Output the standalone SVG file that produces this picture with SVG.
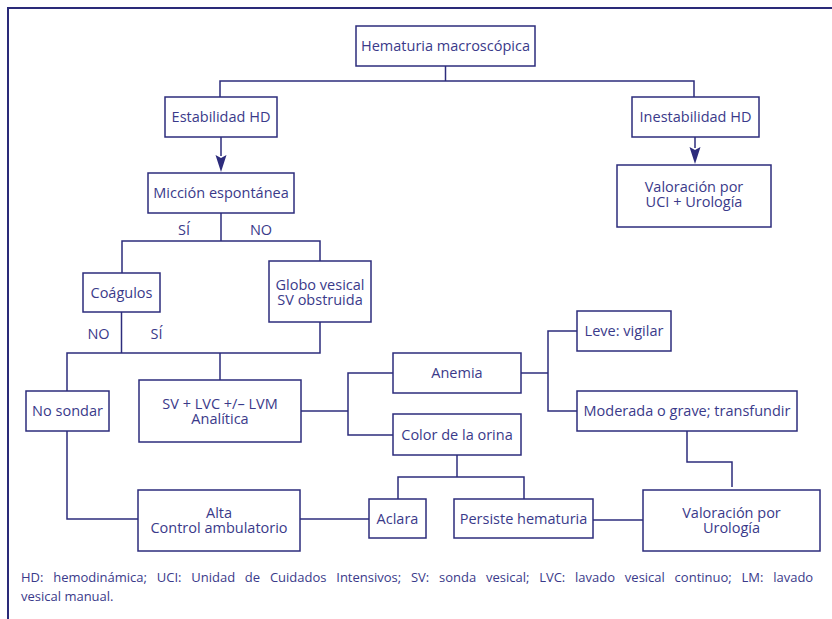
<svg xmlns="http://www.w3.org/2000/svg" width="832" height="619" viewBox="0 0 832 619">
<defs>
<style>
.box{fill:#fff;stroke:#2d2c7c;stroke-width:1.5}
.ln{fill:none;stroke:#2d2c7c;stroke-width:1.5}
.ah{fill:#2d2c7c}
text{font-family:"Open Sans","Noto Sans","Liberation Sans",sans-serif;font-size:14.5px;fill:#3a3a8a;text-anchor:middle}
.fn{font-size:13px;text-anchor:start}
</style>
</defs>
<rect width="832" height="619" fill="#fff"/>
<path d="M8 619 V8 H832" fill="none" stroke="#2a2a78" stroke-width="2"/>
<g id="connectors">
<path class="ln" d="M445.5 66 V81"/>
<path class="ln" d="M220 97 V81 H694 V97"/>
<path class="ln" d="M221 137 V156"/>
<path class="ah" d="M215.5 155 L221 158 L226.5 155 L221 172 Z"/>
<path class="ln" d="M695 137 V148"/>
<path class="ah" d="M689.5 147 L695 150 L700.5 147 L695 164 Z"/>
<path class="ln" d="M221 213 V241"/>
<path class="ln" d="M122 273 V241 H320 V261"/>
<path class="ln" d="M121.5 312 V353"/>
<path class="ln" d="M320 322 V353 H67 V391"/>
<path class="ln" d="M220 353 V380"/>
<path class="ln" d="M301 411 H348"/>
<path class="ln" d="M393 373 H348 V435 H393"/>
<path class="ln" d="M521 373 H548"/>
<path class="ln" d="M577 331 H548 V411 H577"/>
<path class="ln" d="M457 455 V477"/>
<path class="ln" d="M398 499 V477 H524 V499"/>
<path class="ln" d="M687 431 V462 H732 V487"/>
<path class="ln" d="M67 431 V519 H138"/>
<path class="ln" d="M300 519 H369"/>
<path class="ln" d="M593 520 H643"/>
</g>
<g id="n-hematuria"><rect class="box" x="356" y="26" width="179" height="40"/><text x="445.5" y="51">Hematuria macroscópica</text></g>
<g id="n-estabilidad"><rect class="box" x="165" y="97" width="112" height="40"/><text x="221" y="122">Estabilidad HD</text></g>
<g id="n-inestabilidad"><rect class="box" x="632" y="97" width="127" height="40"/><text x="695.5" y="122">Inestabilidad HD</text></g>
<g id="n-uci"><rect class="box" x="617" y="165" width="154" height="62"/><text x="694" y="192">Valoración por</text><text x="694" y="207">UCI + Urología</text></g>
<g id="n-miccion"><rect class="box" x="148" y="173" width="146" height="40"/><text x="221" y="198">Micción espontánea</text></g>
<g id="labels1"><text x="184" y="235">SÍ</text><text x="261" y="235">NO</text></g>
<g id="n-coagulos"><rect class="box" x="83" y="273" width="77" height="39"/><text x="121.5" y="298">Coágulos</text></g>
<g id="n-globo"><rect class="box" x="269" y="261" width="102" height="61"/><text x="320" y="290">Globo vesical</text><text x="320" y="305">SV obstruida</text></g>
<g id="labels2"><text x="98.5" y="339">NO</text><text x="156.5" y="339">SÍ</text></g>
<g id="n-nosondar"><rect class="box" x="26" y="391" width="83" height="40"/><text x="67.5" y="416">No sondar</text></g>
<g id="n-sv"><rect class="box" x="139" y="380" width="162" height="62"/><text x="220" y="409">SV + LVC +/– LVM</text><text x="220" y="424">Analítica</text></g>
<g id="n-anemia"><rect class="box" x="393" y="353" width="128" height="40"/><text x="457" y="378">Anemia</text></g>
<g id="n-color"><rect class="box" x="393" y="414" width="128" height="41"/><text x="457" y="439.5">Color de la orina</text></g>
<g id="n-leve"><rect class="box" x="577" y="311" width="94" height="40"/><text x="624" y="336">Leve: vigilar</text></g>
<g id="n-moderada"><rect class="box" x="577" y="391" width="220" height="40"/><text x="687" y="416">Moderada o grave; transfundir</text></g>
<g id="n-aclara"><rect class="box" x="369" y="499" width="57" height="39"/><text x="397.5" y="523.5">Aclara</text></g>
<g id="n-persiste"><rect class="box" x="454" y="499" width="139" height="39"/><text x="523.5" y="524">Persiste hematuria</text></g>
<g id="n-urologia"><rect class="box" x="643" y="490" width="177" height="61"/><text x="731.5" y="518">Valoración por</text><text x="731.5" y="533">Urología</text></g>
<g id="n-alta"><rect class="box" x="138" y="490" width="162" height="61"/><text x="219" y="518">Alta</text><text x="219" y="533">Control ambulatorio</text></g>
<g id="footnote">
<text class="fn" x="21" y="582" word-spacing="6.4">HD: hemodinámica; UCI: Unidad de Cuidados Intensivos; SV: sonda vesical; LVC: lavado vesical continuo; LM: lavado</text>
<text class="fn" x="21" y="601">vesical manual.</text>
</g>
</svg>
